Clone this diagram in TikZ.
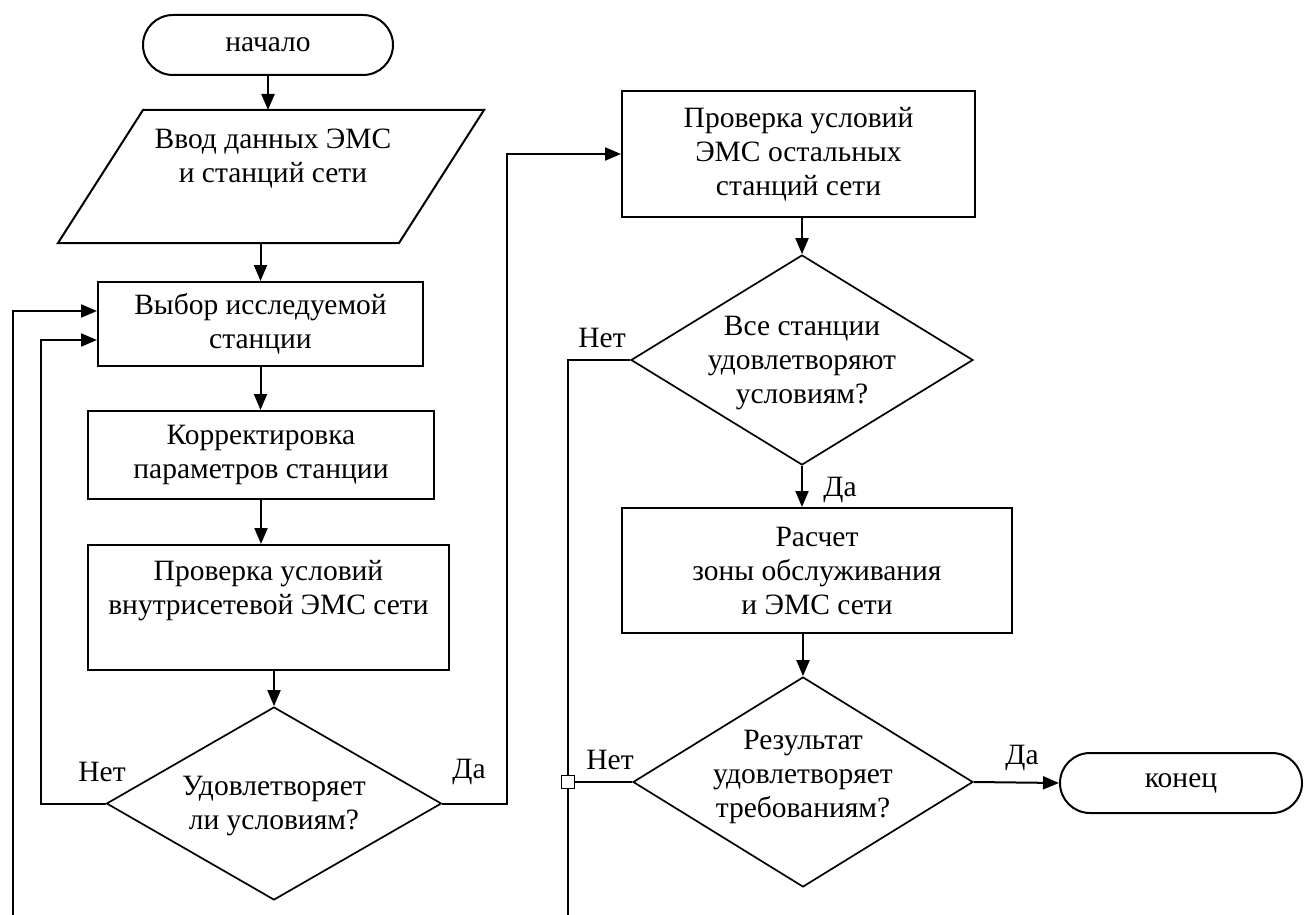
\documentclass[tikz,border=0pt]{standalone}
\usepackage{fontspec}
\setmainfont{Liberation Serif}
\usetikzlibrary{arrows.meta,shapes.geometric}
\begin{document}
\begin{tikzpicture}[x=1pt,y=-1pt, font=\fontsize{29.5}{34}\selectfont, line width=2pt,
  box/.style={draw, rectangle, inner sep=0pt, align=center},
  term/.style={draw, rectangle, rounded corners=30pt, minimum width=250pt, minimum height=60pt, inner sep=0pt, align=center},
  dec/.style={draw, diamond, inner sep=0pt, line width=1.7pt},
  txt/.style={align=center, inner sep=0pt},
  arr/.style={-{Triangle[length=16pt,width=13pt]}},
  lbl/.style={inner sep=0pt}]
\useasboundingbox (0,0) rectangle (1304,915);

% left column
\node[term] (start) at (268,45) {начало};
\coordinate (inBL) at (58,243);
\coordinate (inTL) at (143,110);
\coordinate (inTR) at (484,110);
\coordinate (inBR) at (399,243);
\draw (inBL) -- (inTL) -- (inTR) -- (inBR) -- cycle;
\node[txt] (input) at (273,158.5) {Ввод данных ЭМС\\и станций сети};
\node[box, minimum width=325pt, minimum height=84pt] (vybor) at (260.5,324) {Выбор исследуемой\\станции};
\node[box, minimum width=346pt, minimum height=88pt] (korr) at (261,455) {Корректировка\\параметров станции};
\node[box, minimum width=361pt, minimum height=125pt] (prov1) at (268.5,607.5) {};
\node[txt] (prov1txt) at (268.5,590.5) {Проверка условий\\внутрисетевой ЭМС сети};
\node[dec, minimum width=335pt, minimum height=193pt] (d1) at (274,803.5) {};
\node[txt] (d1txt) at (274,806) {Удовлетворяет\\ли условиям?};

% right column
\node[box, minimum width=353pt, minimum height=126pt] (prov2) at (798.5,154) {Проверка условий\\ЭМС остальных\\станций сети};
\node[dec, minimum width=342pt, minimum height=210pt] (d2) at (802,360) {};
\node[txt] (d2txt) at (802,363) {Все станции\\удовлетворяют\\условиям?};
\node[box, minimum width=390pt, minimum height=125pt] (rasch) at (817,570.5) {Расчет\\зоны обслуживания\\и ЭМС сети};
\node[dec, minimum width=340pt, minimum height=210pt] (d3) at (803,782) {};
\node[txt] (d3txt) at (803,777) {Результат\\удовлетворяет\\требованиям?};
\node[term, minimum width=242pt] (end) at (1181,783) {конец};

% connectors
\draw[arr] (start.south) -- (start.south |- inTL);
\draw[arr] (vybor.north |- inBL) -- (vybor.north);
\draw[arr] (vybor.south) -- (vybor.south |- korr.north);
\draw[arr] (korr.south) -- (korr.south |- prov1.north);
\draw[arr] (d1.north |- prov1.south) -- (d1.north);
\draw[arr] (d1.west) -- ++(-65,0) |- ([yshift=-16pt]vybor.west);
\coordinate (loopL) at (13,915);
\draw[arr] (loopL) |- ([yshift=13pt]vybor.west);
\draw[arr] (d1.east) -- ++(65,0) |- (prov2.west);
\draw[arr] (prov2.south -| d2.north) -- (d2.north);
\coordinate (loopR) at (568,915);
\draw (d2.west) -| (loopR);
\draw[arr] (d2.south) -- (d2.south |- rasch.north);
\draw[arr] (rasch.south -| d3.north) -- (d3.north);
\node[draw, fill=white, minimum size=13pt, inner sep=0pt, line width=1.4pt] (jn) at (568,782) {};
\draw (d3.west) -- (jn.east);
\draw[arr] (d3.east) -- (end.west);

% labels
\node[lbl] (n1) at (102,772) {Нет};
\node[lbl] (y1) at (469,772) {Да};
\node[lbl] (n2) at (602,338) {Нет};
\node[lbl] (y2) at (840,490) {Да};
\node[lbl] (n3) at (610,760) {Нет};
\node[lbl] (y3) at (1022,758) {Да};
\end{tikzpicture}
\end{document}
